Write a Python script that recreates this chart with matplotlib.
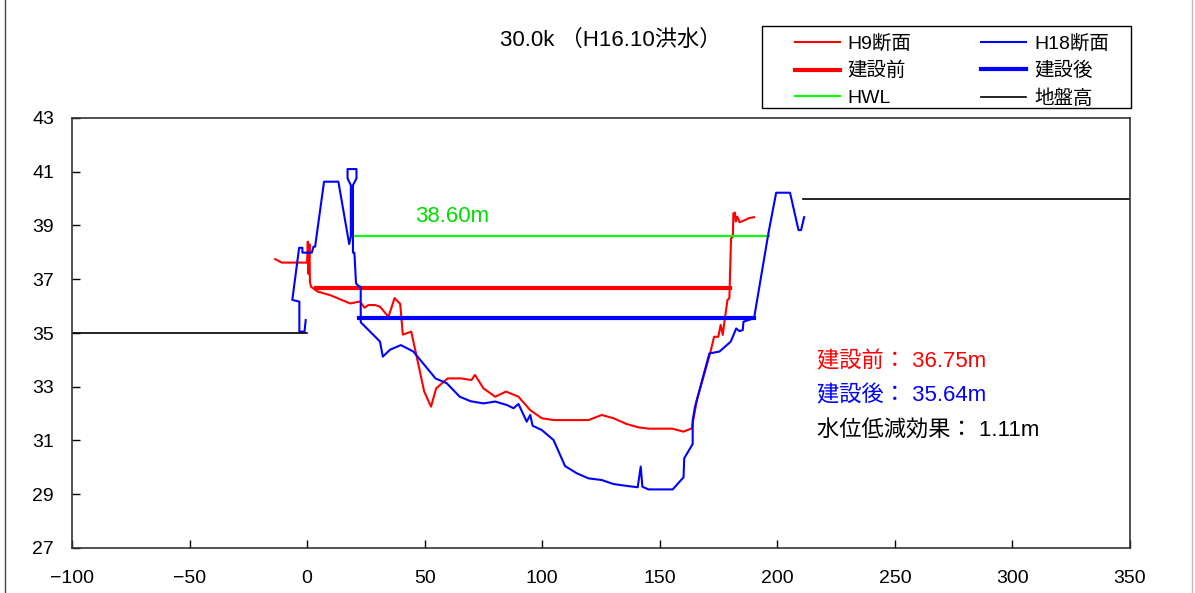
import numpy as np
import matplotlib
matplotlib.use("Agg")
import matplotlib.pyplot as plt
from matplotlib.lines import Line2D
from matplotlib.patches import Rectangle

plt.rcParams['font.family'] = ['Noto Sans CJK JP', 'DejaVu Sans']
latin_cjk = ['Liberation Sans', 'Noto Sans CJK JP']

# H9 cross section (before)
h9_x = [-13.6, -10.8, 0.0, 0.3, 0.6, 1.0, 1.2, 1.7, 4.5, 9.8, 18.3, 22.5, 24.4, 26.1, 28.9,
        31.0, 34.6, 37.2, 39.6, 40.7, 44.3, 46.6, 49.8, 52.7, 54.9, 59.8, 65.5, 69.9, 71.4,
        75.0, 80.0, 84.6, 89.9, 94.9, 99.8, 104.8, 119.7, 125.3, 130.3, 136.0, 140.9, 145.2,
        155.3, 160.1, 163.6, 165.8, 171.4, 173.1, 174.9, 175.9, 176.8, 177.4, 178.8, 179.6,
        180.3, 181.1, 181.3, 182.0, 182.3, 183.0, 183.9, 187.0, 187.7, 190.1]
h9_y = [37.75, 37.62, 37.62, 38.4, 37.2, 38.3, 36.9, 36.72, 36.54, 36.41, 36.1, 36.17, 35.94,
        36.04, 36.04, 35.98, 35.6, 36.3, 36.08, 34.94, 35.05, 34.12, 32.82, 32.26, 32.94,
        33.31, 33.31, 33.25, 33.44, 32.94, 32.63, 32.82, 32.63, 32.13, 31.83, 31.76, 31.76,
        31.95, 31.83, 31.61, 31.49, 31.44, 31.44, 31.33, 31.45, 32.51, 34.24, 34.86, 34.86,
        35.3, 34.93, 35.36, 36.23, 36.29, 38.52, 38.58, 39.45, 39.48, 39.15, 39.33, 39.12,
        39.23, 39.27, 39.31]

# H18 cross section (after)
h18_x = [-0.6, -1.1, -3.3, -3.3, -6.3, -3.4, -2.0, -2.0, 2.0, 2.7, 3.4, 7.2, 13.3, 17.9, 18.6,
         18.6, 17.2, 17.2, 21.0, 21.0, 19.5, 19.5, 20.1, 20.8, 21.8, 22.8, 22.8, 26.8, 31.0,
         32.2, 35.3, 39.9, 45.2, 54.6, 59.4, 64.9, 69.6, 75.0, 80.0, 85.0, 87.8, 89.9, 93.4,
         94.9, 95.9, 99.8, 104.8, 109.7, 114.7, 119.7, 125.3, 130.3, 136.0, 140.6, 141.9,
         142.6, 145.2, 155.5, 160.1, 160.4, 164.0, 164.0, 165.0, 171.1, 175.4, 180.2, 182.5,
         183.9, 185.3, 185.6, 190.1, 196.2, 199.5, 205.4, 209.0, 210.1, 211.4]
h18_y = [35.48, 35.05, 35.05, 36.17, 36.23, 38.17, 38.17, 37.99, 37.99, 38.21, 38.21, 40.63,
         40.63, 38.31, 38.6, 40.5, 40.75, 41.1, 41.1, 40.75, 40.5, 37.99, 37.99, 36.85, 36.75,
         36.72, 35.4, 35.05, 34.68, 34.12, 34.38, 34.55, 34.31, 33.31, 33.13, 32.63, 32.46,
         32.38, 32.45, 32.32, 32.2, 32.36, 31.7, 31.95, 31.55, 31.39, 31.02, 30.05, 29.78,
         29.59, 29.53, 29.38, 29.31, 29.26, 30.03, 29.28, 29.18, 29.18, 29.63, 30.34, 30.87,
         31.76, 32.26, 34.24, 34.31, 34.68, 35.17, 35.07, 35.11, 35.42, 35.55, 38.71, 40.22,
         40.22, 38.83, 38.83, 39.31]

# water levels
before_x = [3.8, 180.0]
before_y = [36.69, 36.69]
after_x = [22.0, 190.0]
after_y = [35.55, 35.55]
hwl_x = [19.0, 196.5]
hwl_y = [38.6, 38.6]

# ground height
ground_x = [-100, 0, np.nan, 211, 350]
ground_y = [35, 35, np.nan, 40, 40]

W, H = 1195, 593
fig = plt.figure(figsize=(W / 100, H / 100), dpi=100)
ax = fig.add_axes([72 / W, 1 - 548 / H, 1058 / W, 430 / H])

ax.plot(h9_x, h9_y, color='#ff0000', lw=1.5, label='H9断面')
ax.plot(before_x, before_y, color='#ff0000', lw=3, label='建設前')
ax.plot(hwl_x, hwl_y, color='#00ff00', lw=1.5, label='HWL')
ax.plot(h18_x, h18_y, color='#0000ff', lw=1.5, label='H18断面')
ax.plot(after_x, after_y, color='#0000ff', lw=3, label='建設後')
ax.plot(ground_x, ground_y, color='black', lw=1.2, label='地盤高')

ax.set_xlim(-100, 350)
ax.set_ylim(27, 43)
ax.set_xticks(np.arange(-100, 351, 50))
ax.set_yticks(np.arange(27, 44, 2))
ax.tick_params(axis='x', direction='in', length=6, width=1, labelsize=14, pad=16)
ax.tick_params(axis='y', direction='in', length=6, width=1, labelsize=14, pad=13)
for lab in ax.get_xticklabels() + ax.get_yticklabels():
    lab.set_family('Liberation Sans')
for s in ax.spines.values():
    s.set_color('#333333')
    s.set_linewidth(1.2)

ax.text(46, 39.35, '38.60m', color='#00dd00', fontsize=16, va='center', ha='left',
        family=latin_cjk)
ax.text(217, 33.92, '建設前： 36.75m', color='#ff0000', fontsize=16, va='center', family=latin_cjk)
ax.text(217, 32.66, '建設後： 35.64m', color='#0000ff', fontsize=16, va='center', family=latin_cjk)
ax.text(217, 31.39, '水位低減効果： 1.11m', color='black', fontsize=16, va='center',
        family=latin_cjk)

fig.text(500 / W, 1 - 40 / H, '30.0k （H16.10洪水）', fontsize=16, ha='left', va='center',
         family=latin_cjk)

# legend frame drawn separately so the inner padding can match
fig.add_artist(Rectangle((762 / W, 1 - 108 / H), 369 / W, 82 / H, transform=fig.transFigure,
                         fill=False, edgecolor='black', lw=1.0))
leg = fig.legend(loc='upper left', bbox_to_anchor=(795 / W, 1 - 35 / H), ncol=2,
                 prop={'family': latin_cjk, 'size': 14}, frameon=False,
                 borderpad=0, labelspacing=0.45, handlelength=2.3, columnspacing=3.6,
                 handletextpad=0.4, borderaxespad=0)

fig.add_artist(Line2D([5 / W, 5 / W], [0, 1], color='#444444', lw=1))
fig.add_artist(Line2D([1192 / W, 1192 / W], [0, 1], color='#bbbbbb', lw=1))

fig.savefig('out.png', dpi=100)
